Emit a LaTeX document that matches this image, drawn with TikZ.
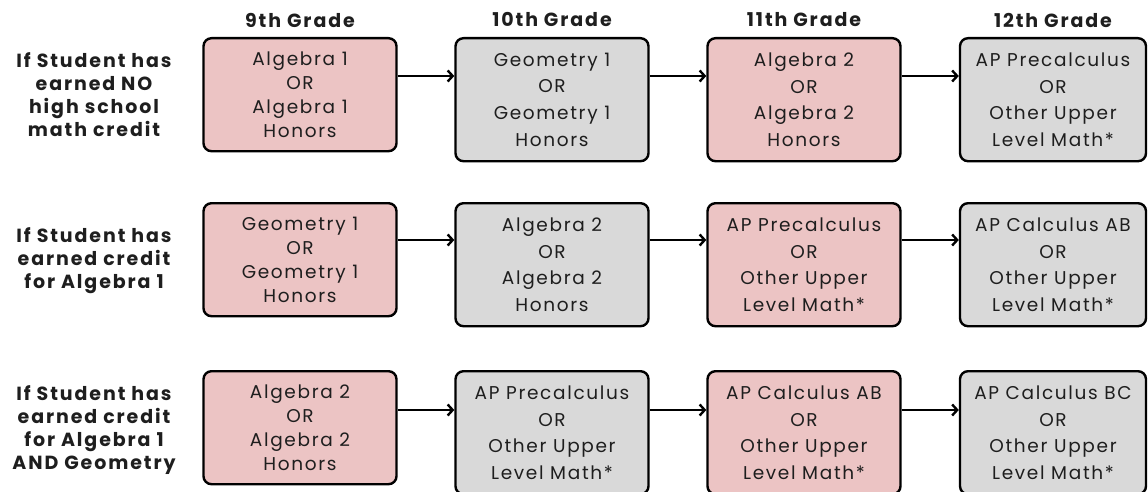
\documentclass[tikz,border=0pt]{standalone}
\usepackage{fontspec}
\setmainfont{Poppins}
\newfontfamily\coursefont{Poppins}[LetterSpace=9]
\newfontfamily\labelfont{Poppins}[LetterSpace=10]
\usetikzlibrary{arrows.meta,positioning}
\definecolor{CoursePink}{HTML}{ECC4C4}
\definecolor{CourseGrey}{HTML}{D9D9D9}
\definecolor{Ink}{HTML}{1E1E1E}
\tikzset{
  course node/.style={draw=black,line width=2.4pt,rounded corners=8pt,align=center,anchor=north,
    minimum width=193pt,minimum height=123pt,inner sep=0pt,text=Ink,
    font=\coursefont\fontsize{18.5}{26.7}\selectfont},
  first course/.style={minimum height=113pt,font=\coursefont\fontsize{18.5}{24}\selectfont},
  last course/.style={minimum width=186pt},
  pink course/.style={fill=CoursePink},
  grey course/.style={fill=CourseGrey},
  grade label/.style={text=Ink,font=\labelfont\bfseries\fontsize{19}{22}\selectfont},
  student label/.style={align=center,text=Ink,font=\labelfont\bfseries\fontsize{19}{23}\selectfont},
  grade arrow/.style={-{Straight Barb[length=5pt,width=11pt]},line width=2.4pt}
}

\begin{document}
\begin{tikzpicture}[x=1pt,y=-1pt]
  \useasboundingbox (0,0) rectangle (1148,492);
  % grade headings
  \node[grade label] (ninth) at (300,20) {9th Grade};
  \node[grade label] (tenth) at (552,20) {10th Grade};
  \node[grade label] (eleventh) at (804,20) {11th Grade};
  \node[grade label] (twelfth) at (1053,20) {12th Grade};
  % row labels
  \node[student label] (nocredit) at (94,95) {If Student has\\earned NO\\high school\\math credit};
  \node[student label] (algcredit) at (94,261) {If Student has\\earned credit\\for Algebra 1};
  \node[student label] (geocredit) at (94,430) {If Student has\\earned credit\\for Algebra 1\\AND Geometry};
  % no credit
  \node[course node,pink course,first course] (a9) at (300,37) {Algebra 1\\OR\\Algebra 1\\Honors};
  \node[course node,grey course] (a10) at (552,37) {Geometry 1\\OR\\Geometry 1\\Honors};
  \node[course node,pink course] (a11) at (804,37) {Algebra 2\\OR\\Algebra 2\\Honors};
  \node[course node,grey course,last course] (a12) at (1053,37) {AP Precalculus\\OR\\Other Upper\\Level Math*};
  % algebra 1 credit
  \node[course node,pink course,first course] (b9) at (300,202) {Geometry 1\\OR\\Geometry 1\\Honors};
  \node[course node,grey course] (b10) at (552,202) {Algebra 2\\OR\\Algebra 2\\Honors};
  \node[course node,pink course] (b11) at (804,202) {AP Precalculus\\OR\\Other Upper\\Level Math*};
  \node[course node,grey course,last course] (b12) at (1053,202) {AP Calculus AB\\OR\\Other Upper\\Level Math*};
  % algebra 1 and geometry credit
  \node[course node,pink course,first course] (c9) at (300,370) {Algebra 2\\OR\\Algebra 2\\Honors};
  \node[course node,grey course] (c10) at (552,370) {AP Precalculus\\OR\\Other Upper\\Level Math*};
  \node[course node,pink course] (c11) at (804,370) {AP Calculus AB\\OR\\Other Upper\\Level Math*};
  \node[course node,grey course,last course] (c12) at (1053,370) {AP Calculus BC\\OR\\Other Upper\\Level Math*};
  % arrows
  \draw[grade arrow] ([yshift=-39pt]a9.north east) -- ([yshift=-39pt]a10.north west);
  \draw[grade arrow] ([yshift=-39pt]a10.north east) -- ([yshift=-39pt]a11.north west);
  \draw[grade arrow] ([yshift=-39pt]a11.north east) -- ([yshift=-39pt]a12.north west);
  \draw[grade arrow] ([yshift=-38pt]b9.north east) -- ([yshift=-38pt]b10.north west);
  \draw[grade arrow] ([yshift=-38pt]b10.north east) -- ([yshift=-38pt]b11.north west);
  \draw[grade arrow] ([yshift=-38pt]b11.north east) -- ([yshift=-38pt]b12.north west);
  \draw[grade arrow] ([yshift=-40pt]c9.north east) -- ([yshift=-40pt]c10.north west);
  \draw[grade arrow] ([yshift=-40pt]c10.north east) -- ([yshift=-40pt]c11.north west);
  \draw[grade arrow] ([yshift=-40pt]c11.north east) -- ([yshift=-40pt]c12.north west);
\end{tikzpicture}
\end{document}
